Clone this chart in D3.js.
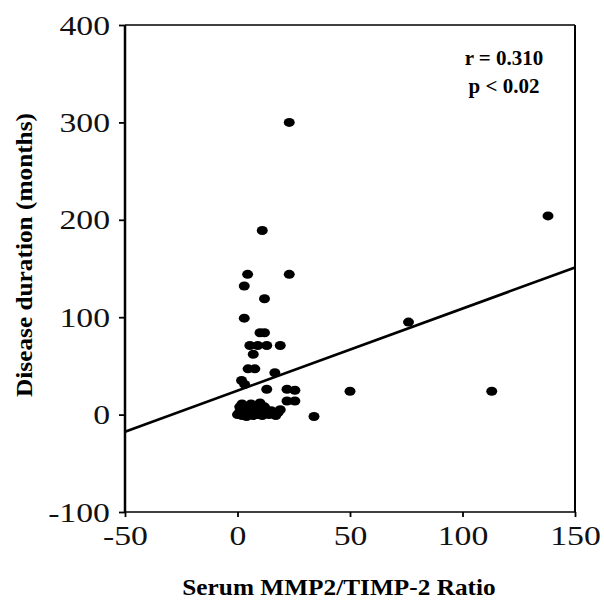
<!DOCTYPE html>
<html>
<head>
<meta charset="utf-8">
<script src="https://cdn.jsdelivr.net/npm/d3@7"></script>
<style>
  html, body { margin: 0; padding: 0; background: #fff; }
  svg { display: block; }
</style>
</head>
<body>
<svg id="chart" width="604" height="603"></svg>
<script>
// ---- data ----
const xTicks = [-50, 0, 50, 100, 150];
const yTicks = [-100, 0, 100, 200, 300, 400];
const ratio = [138, 76, 50, 113, 34, 23, 11, 4.5, 23, 3, 12,
  3, 10, 12, 5.5, 9, 13, 19, 7, 4.7, 7.7, 16.6, 1.8, 3.2, 13, 22, 25.5, 22, 25.5, 2, 6, 10, 19,
  0, 1, 2, 4, 5, 6, 7, 8, 9, 10, 11, 12, 14, 15, 17, 18, 3, 9,
  1, 5, 13, 16, 4, 12];
const duration = [204, 95, 24, 24, -2, 300, 189, 144, 144, 132, 119,
  99, 84, 84, 71, 71, 71, 71, 62, 47, 47, 43, 35, 31, 26, 26, 25, 14, 14, 11, 11, 12, 5,
  0, 3, -1, 2, 0, 4, -1, 2, 0, 5, -1, 2, 0, 4, -1, 2, 6, 7,
  8, 6, 3, 1, -2, 8];
const fitIntercept = 24.6, fitSlope = 0.8425;
const statLines = ["r = 0.310", "p < 0.02"];
const xTitle = "Serum MMP2/TIMP-2 Ratio";
const yTitle = "Disease duration (months)";

// ---- layout ----
const svg = d3.select("#chart");
const L = 125, R = 575, T = 25, B = 512;
const x = d3.scaleLinear().domain([-50, 150]).range([L, R]);
const y = d3.scaleLinear().domain([-100, 400]).range([B, T]);
const serif = "'Liberation Serif', 'Times New Roman', serif";

function stretch(sel, f) {
  sel.each(function () {
    const w = this.getComputedTextLength();
    d3.select(this).attr("textLength", w * f).attr("lengthAdjust", "spacingAndGlyphs");
  });
}

// frame (top & right)
svg.append("line").attr("x1", L).attr("x2", R).attr("y1", T).attr("y2", T)
  .attr("stroke", "#000").attr("stroke-width", 1.5);
svg.append("line").attr("x1", R).attr("x2", R).attr("y1", T).attr("y2", B)
  .attr("stroke", "#000").attr("stroke-width", 2);

// axes
const xAxis = svg.append("g").attr("transform", `translate(0,${B})`)
  .call(d3.axisBottom(x).tickValues(xTicks).tickSize(5).tickPadding(9).tickFormat(d3.format("d")));
const yAxis = svg.append("g").attr("transform", `translate(${L},0)`)
  .call(d3.axisLeft(y).tickValues(yTicks).tickSize(6).tickPadding(9).tickFormat(d3.format("d")));
xAxis.select(".domain").attr("stroke-width", 1.5).attr("d", `M${L},0H${R}`);
yAxis.select(".domain").attr("stroke-width", 2.5).attr("d", `M0,${B}V${T}`);
[xAxis, yAxis].forEach(a => {
  a.selectAll(".tick line").attr("stroke-width", 1.8);
  a.selectAll("text").attr("font-family", serif).attr("font-size", 27).attr("fill", "#111")
    .text(d => d < 0 ? "-" + Math.abs(d) : d);
  stretch(a.selectAll("text"), 1.25);
});
yAxis.selectAll("text").attr("dy", "0.34em");

// regression line
svg.append("line")
  .attr("x1", x(-50)).attr("y1", y(fitIntercept + fitSlope * -50))
  .attr("x2", x(150)).attr("y2", y(fitIntercept + fitSlope * 150))
  .attr("stroke", "#000").attr("stroke-width", 2.6);

// points
svg.append("g").selectAll("ellipse").data(ratio.map((v, i) => [v, duration[i]]))
  .join("ellipse")
  .attr("cx", d => x(d[0])).attr("cy", d => y(d[1]))
  .attr("rx", 5.5).attr("ry", 4.5).attr("fill", "#000");

// stats
svg.append("g").selectAll("text").data(statLines).join("text")
  .attr("x", 504).attr("y", (d, i) => 65 + i * 28)
  .attr("text-anchor", "middle")
  .attr("font-family", serif).attr("font-weight", "bold").attr("font-size", 21)
  .text(d => d);

// titles
svg.append("text").attr("x", 339).attr("y", 595).attr("text-anchor", "middle")
  .attr("font-family", serif).attr("font-weight", "bold").attr("font-size", 23)
  .text(xTitle).call(s => stretch(s, 1.1));
svg.append("text").attr("transform", "translate(32,255) rotate(-90)").attr("text-anchor", "middle")
  .attr("font-family", serif).attr("font-weight", "bold").attr("font-size", 23)
  .text(yTitle).call(s => stretch(s, 1.1));
</script>
</body>
</html>
